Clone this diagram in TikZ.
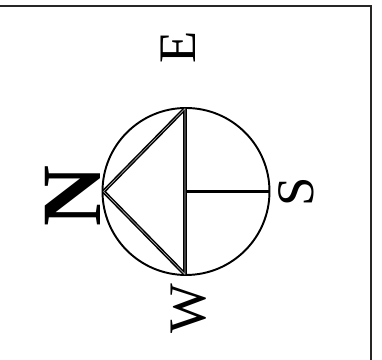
\documentclass[tikz,border=0pt]{standalone}
\usepackage{fontspec}
\setmainfont{Liberation Serif}
\usetikzlibrary{positioning, calc}
\tikzset{
    dial/.style={circle, draw=black, line width=1.1pt, minimum size=3.34cm, inner sep=0pt},
    pointer/.style={draw=black, double=white!70!black, double distance=0.35pt, line width=0.85pt, line join=bevel},
    stem/.style={draw=black, line width=1.3pt},
    heading/.style={rotate=90, inner sep=0pt, font=\fontsize{30}{30}\selectfont},
    north/.style={rotate=90, inner sep=0pt, font=\fontsize{48}{48}\selectfont\bfseries},
}
\begin{document}
\begin{tikzpicture}
                \useasboundingbox (0,0) rectangle (7.64,7.2);
                % Cornice
                \coordinate (FrameLeft) at (0,7.08);
                \coordinate (FrameCorner) at (7.42,7.08);
                \coordinate (FrameBottom) at (7.42,0);
                \draw[line width=1.1pt, black!85] (FrameLeft) -- (FrameCorner) -- (FrameBottom);

                % Quadrante
                \node[dial] (dial) at (3.72,3.37) {};

                % Triangolo e lancetta
                \coordinate (TipN) at ($(dial.west)+(0.04,0)$);
                \coordinate (TipE) at ($(dial.north)+(-0.02,-0.03)$);
                \coordinate (TipW) at ($(dial.south)+(-0.02,0.03)$);
                \draw[pointer] (TipN) -- (TipE) -- (TipW) -- cycle;
                \draw[stem] (dial.center) -- (dial.east);

                % Punti cardinali
                \node[north] (labelN) at (1.46,3.28) {N};
                \node[heading] (labelE) at (3.56,6.25) {E};
                \node[heading] (labelW) at (3.77,1.03) {W};
                \node[heading] (labelS) at (5.92,3.36) {S};
            \end{tikzpicture}
\end{document}
